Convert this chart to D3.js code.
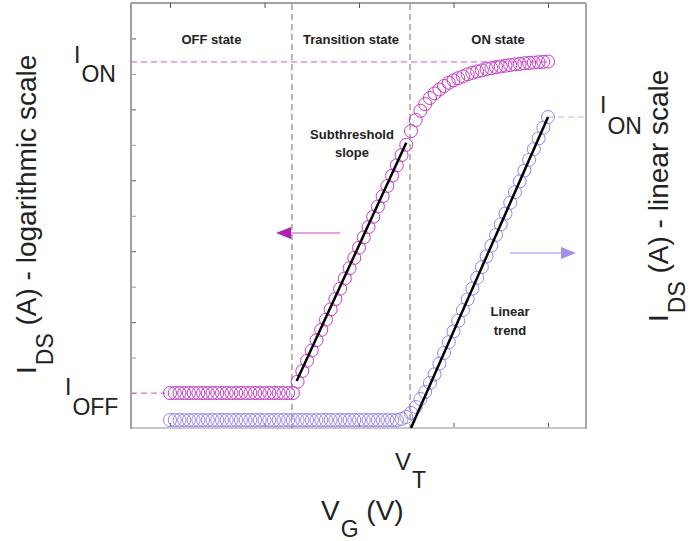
<!DOCTYPE html>
<html><head><meta charset="utf-8">
<script src="https://cdn.jsdelivr.net/npm/d3@7"></script>
<style>body{margin:0;background:#fff}svg{display:block}</style>
</head><body>
<svg id="c" width="693" height="541"></svg>
<script>
// ---------- data ----------
const vg = [
 1.00,1.05,1.10,1.15,1.20,1.25,1.30,1.35,1.40,1.45,1.50,1.55,1.60,1.65,1.70,1.75,1.80,1.85,1.90,1.95,
 2.00,2.05,2.10,2.15,2.20,2.25,2.30,2.35,2.40,2.45,2.50,2.55,2.60,2.65,2.70,2.75,2.80,2.85,2.90,2.95,
 3.00,3.05,3.10,3.15,3.20,3.25,3.30,3.35,3.40,3.45,3.50,3.55,3.60,3.65,3.70,3.75,3.80,3.85,3.90,3.95,
 4.00,4.05,4.10,4.15,4.20,4.25,4.30,4.35,4.40,4.45,4.50,4.55,4.60,4.65,4.70,4.75,4.80,4.85,4.90,4.95,
 5.00];
// I_DS on logarithmic axis (A)
const idsLog = [
 1e-12,1e-12,1e-12,1e-12,1e-12,1e-12,1e-12,1e-12,1e-12,1e-12,1e-12,1e-12,1e-12,1e-12,1e-12,1e-12,1e-12,1e-12,1e-12,1e-12,
 1e-12,1e-12,1e-12,1e-12,1e-12,1e-12,1e-12,2.09e-12,4.17e-12,8.13e-12,1.58e-11,3.09e-11,6.03e-11,1.17e-10,2.29e-10,4.47e-10,8.71e-10,1.70e-9,3.31e-9,6.46e-9,
 1.26e-8,2.45e-8,4.79e-8,9.33e-8,1.82e-7,3.55e-7,6.92e-7,1.35e-6,2.63e-6,5.13e-6,1.00e-5,2.45e-5,5.01e-5,9.12e-5,1.41e-4,2.09e-4,2.82e-4,3.63e-4,4.57e-4,5.62e-4,
 6.61e-4,7.59e-4,8.51e-4,9.77e-4,1.07e-3,1.17e-3,1.26e-3,1.38e-3,1.45e-3,1.55e-3,1.62e-3,1.70e-3,1.78e-3,1.86e-3,1.91e-3,2.00e-3,2.04e-3,2.09e-3,2.14e-3,2.19e-3,
 2.24e-3];
// I_DS on linear axis (A)
const idsLin = [
 5.6e-5,5.6e-5,5.6e-5,5.6e-5,5.6e-5,5.6e-5,5.6e-5,5.6e-5,5.6e-5,5.6e-5,5.6e-5,5.6e-5,5.6e-5,5.6e-5,5.6e-5,5.6e-5,5.6e-5,5.6e-5,5.6e-5,5.6e-5,
 5.6e-5,5.6e-5,5.6e-5,5.6e-5,5.6e-5,5.6e-5,5.6e-5,5.6e-5,5.6e-5,5.6e-5,5.6e-5,5.6e-5,5.6e-5,5.6e-5,5.6e-5,5.6e-5,5.6e-5,5.6e-5,5.6e-5,5.6e-5,
 5.6e-5,5.6e-5,5.6e-5,5.6e-5,5.6e-5,5.6e-5,5.6e-5,5.6e-5,5.6e-5,6.4e-5,7.8e-5,1.06e-4,1.48e-4,2.05e-4,2.54e-4,3.18e-4,3.79e-4,4.54e-4,5.30e-4,6.06e-4,
 6.81e-4,7.57e-4,8.33e-4,9.08e-4,9.84e-4,1.060e-3,1.136e-3,1.211e-3,1.287e-3,1.363e-3,1.438e-3,1.514e-3,1.590e-3,1.665e-3,1.741e-3,1.817e-3,1.893e-3,1.968e-3,2.044e-3,2.120e-3,
 2.195e-3];
const xTickValues = [1, 2, 3, 4, 5];
const yLogTickValues = [1e-12,1e-11,1e-10,1e-9,1e-8,1e-7,1e-6,1e-5,1e-4,1e-3,1e-2];
const regionNames = ["OFF state", "Transition state", "ON state"];
const regionBounds = [2.29, 3.54];      // V_G of the two dashed boundaries (V_T = 3.54)
const subFitV = [2.34, 3.50], subFitI = [2.2e-12, 1.15e-5];
const linFitV = [3.55, 5.00], linFitI = [0, 2.195e-3];
const iOnLog = 2.19e-3, iOffLog = 1e-12, iOnLin = 2.195e-3;

// ---------- layout ----------
const L = 131, R = 586, T = 3, B = 428;
const FONT = "'Liberation Sans', Arial, sans-serif";
const MAG = "#c43cc4", MAG_L = "#e070e0", PUR = "#9a82f0", PUR_L = "#cdc3f7";

const svg = d3.select("#c");
const x = d3.scaleLinear().domain([0.587, 5.402]).range([L, R]);
const yLog = d3.scaleLog().domain([1e-13, 1e-1]).range([428.5, T]);
const yLin = d3.scaleLinear().domain([0, 3e-3]).range([B, T]);

// axes (ticks inward, no labels)
const gx = svg.append("g").attr("transform", `translate(0,${B})`)
  .call(d3.axisBottom(x).tickValues(xTickValues).tickSize(-5).tickFormat(""));
const gxt = svg.append("g").attr("transform", `translate(0,${T})`)
  .call(d3.axisTop(x).tickValues(xTickValues).tickSize(-5).tickFormat(""));
const gy = svg.append("g").attr("transform", `translate(${L},0)`)
  .call(d3.axisLeft(yLog).tickValues(yLogTickValues).tickSize(-5).tickFormat(""));
[gx, gxt, gy].forEach(g => { g.select(".domain").remove(); g.selectAll("line").attr("stroke", "#555"); });
gy.selectAll(".tick line").attr("stroke", (d, i) => i % 2 ? "#999" : "#555");

// frame
svg.append("line").attr("x1", L).attr("x2", R).attr("y1", T).attr("y2", T).attr("stroke", "#444").attr("stroke-width", 1);
svg.append("line").attr("x1", L).attr("x2", R + 1).attr("y1", B).attr("y2", B).attr("stroke", "#c8c8c8").attr("stroke-width", 2);
svg.append("line").attr("x1", L).attr("x2", L).attr("y1", T).attr("y2", B + 1).attr("stroke", "#a0a0a0").attr("stroke-width", 2);
svg.append("line").attr("x1", R).attr("x2", R).attr("y1", T).attr("y2", B + 1).attr("stroke", "#a8a8a8").attr("stroke-width", 2);

// region boundaries
regionBounds.forEach(v => svg.append("line")
  .attr("x1", x(v)).attr("x2", x(v)).attr("y1", T + 1).attr("y2", B)
  .attr("stroke", "#8a8a8a").attr("stroke-width", 1.2).attr("stroke-dasharray", "6,4"));

// region labels
const edges = [L, x(regionBounds[0]), x(regionBounds[1]), R];
regionNames.forEach((t, i) => svg.append("text")
  .attr("x", (edges[i] + edges[i + 1]) / 2).attr("y", 44).attr("text-anchor", "middle")
  .attr("font-family", FONT).attr("font-weight", "bold").attr("font-size", 13).attr("fill", "#222").text(t));

// reference dashed lines
svg.append("line").attr("x1", L).attr("x2", x(vg[vg.length - 1]))
  .attr("y1", yLog(iOnLog)).attr("y2", yLog(iOnLog))
  .attr("stroke", MAG_L).attr("stroke-width", 1.3).attr("stroke-dasharray", "6,4");
svg.append("line").attr("x1", L).attr("x2", x(0.95))
  .attr("y1", yLog(iOffLog)).attr("y2", yLog(iOffLog))
  .attr("stroke", MAG_L).attr("stroke-width", 1.3).attr("stroke-dasharray", "6,4");
svg.append("line").attr("x1", x(vg[vg.length - 1])).attr("x2", R)
  .attr("y1", yLin(iOnLin)).attr("y2", yLin(iOnLin))
  .attr("stroke", PUR_L).attr("stroke-width", 1.3).attr("stroke-dasharray", "6,4");

// markers
svg.append("g").selectAll("circle").data(vg).join("circle")
  .attr("cx", d => x(d)).attr("cy", (d, i) => yLin(idsLin[i])).attr("r", 6.5)
  .attr("fill", "none").attr("stroke", PUR).attr("stroke-width", 1);
svg.append("g").selectAll("circle").data(vg).join("circle")
  .attr("cx", d => x(d)).attr("cy", (d, i) => yLog(idsLog[i])).attr("r", 6.5)
  .attr("fill", "none").attr("stroke", MAG).attr("stroke-width", 1);

// fit lines
svg.append("line").attr("x1", x(subFitV[0])).attr("y1", yLog(subFitI[0]))
  .attr("x2", x(subFitV[1])).attr("y2", yLog(subFitI[1])).attr("stroke", "#000").attr("stroke-width", 2.5);
svg.append("line").attr("x1", x(linFitV[0])).attr("y1", yLin(linFitI[0]))
  .attr("x2", x(linFitV[1])).attr("y2", yLin(linFitI[1])).attr("stroke", "#000").attr("stroke-width", 2.5);

// annotations
function label(lines, cx, y0, dy) {
  lines.forEach((t, i) => svg.append("text").attr("x", cx).attr("y", y0 + i * dy)
    .attr("text-anchor", "middle").attr("font-family", FONT).attr("font-weight", "bold")
    .attr("font-size", 13).attr("fill", "#222").text(t));
}
label(["Subthreshold", "slope"], 352, 139, 18);
label(["Linear", "trend"], 510, 316, 19);

// arrows
svg.append("line").attr("x1", 340).attr("x2", 290).attr("y1", 233).attr("y2", 233).attr("stroke", "#c050c0").attr("stroke-width", 1.2);
svg.append("path").attr("d", "M276,233 L291,227 L291,239 Z").attr("fill", "#b020b0");
svg.append("line").attr("x1", 510).attr("x2", 562).attr("y1", 253).attr("y2", 253).attr("stroke", "#a58df0").attr("stroke-width", 1.2);
svg.append("path").attr("d", "M576,253 L561,247 L561,259 Z").attr("fill", "#a58df0");

// sub-scripted labels
function sublabel(xp, yp, main, sub, rest, fsMain, fsSub, dy, rot) {
  const t = svg.append("text").attr("font-family", FONT).attr("fill", "#222")
    .attr("transform", `translate(${xp},${yp})` + (rot ? " rotate(-90)" : ""));
  t.append("tspan").attr("x", 0).attr("y", 0).attr("font-size", fsMain).text(main);
  t.append("tspan").attr("dy", dy).attr("dx", 1).attr("font-size", fsSub).text(sub);
  if (rest) t.append("tspan").attr("dy", -dy).attr("font-size", fsMain).text(rest);
}
sublabel(74, 63, "I", "ON", null, 23, 23, 19, false);
sublabel(65, 395, "I", "OFF", null, 23, 23, 20, false);
sublabel(600, 113, "I", "ON", null, 23, 23, 21, false);
sublabel(395, 470, "V", "T", null, 24, 23, 18, false);
sublabel(321, 520, "V", "G", " (V)", 28, 23, 17, false);
sublabel(36, 374, "I", "DS", " (A) - logarithmic scale", 28, 23, 17, true);
sublabel(668, 322, "I", "DS", " (A) - linear scale", 28, 23, 17, true);
</script>
</body></html>
